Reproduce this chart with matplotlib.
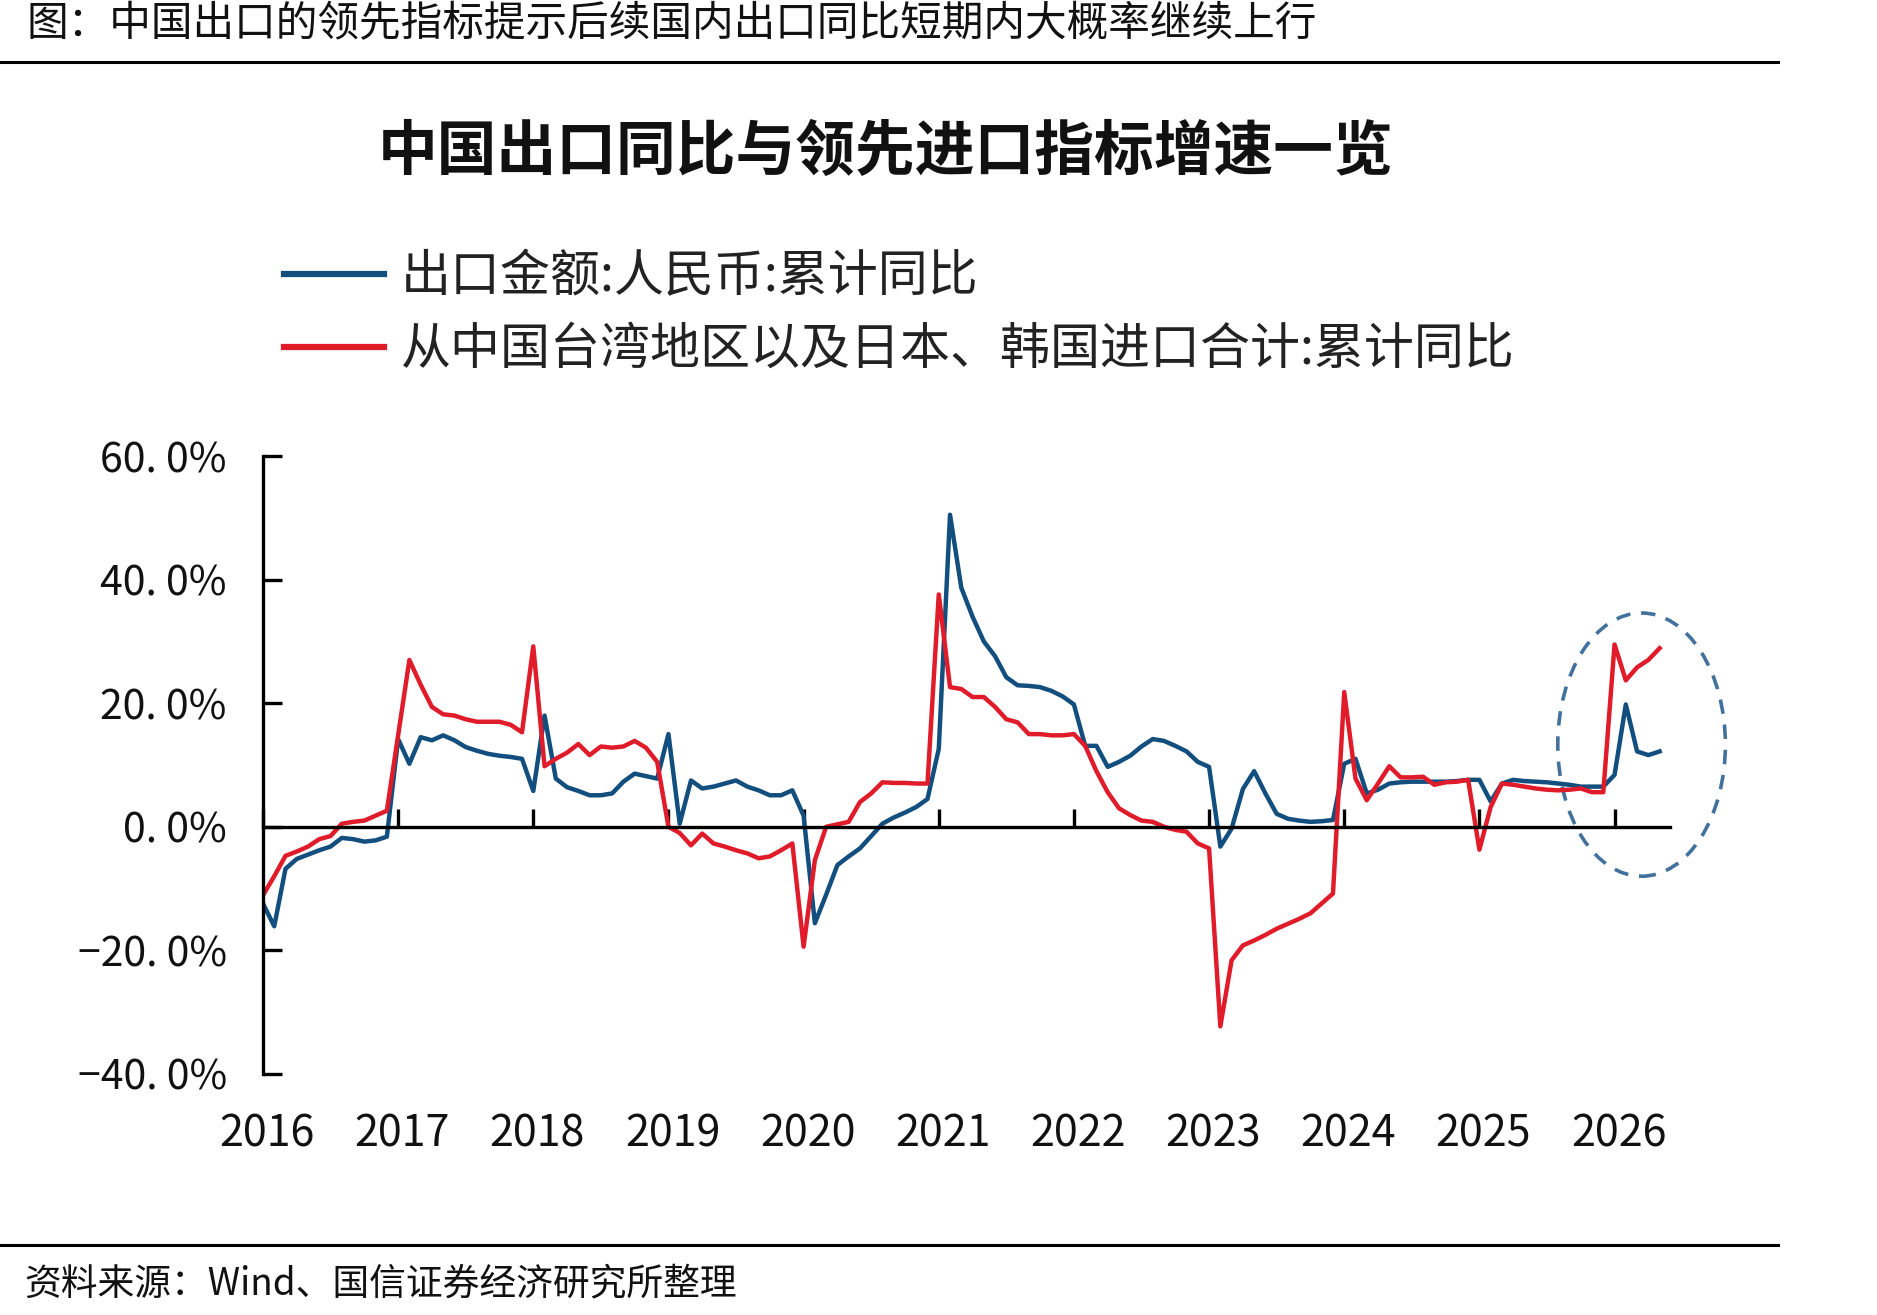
import numpy as np
import matplotlib.pyplot as plt
import matplotlib.transforms as mtransforms
from matplotlib.lines import Line2D
from matplotlib.patches import Ellipse

plt.rcParams['font.family'] = ['Noto Sans CJK SC', 'DejaVu Sans']

# 月度数据：2016-01 至 2026-05
years = list(range(2016, 2027))
year_labels = [str(y) for y in years]

export_yoy = [
    # 2016
    -12.4, -16.1, -6.8, -5.2, -4.5, -3.8, -3.2, -1.8, -2.0, -2.4, -2.2, -1.6,
    # 2017
    14.2, 10.2, 14.5, 14.0, 14.8, 14.0, 12.9, 12.3, 11.8, 11.5, 11.3, 11.0,
    # 2018
    5.8, 18.0, 7.8, 6.4, 5.8, 5.1, 5.1, 5.4, 7.3, 8.6, 8.2, 7.8,
    # 2019
    15.0, 0.5, 7.5, 6.2, 6.5, 7.0, 7.5, 6.5, 5.9, 5.1, 5.1, 5.9,
    # 2020
    1.8, -15.6, -11.0, -6.2, -4.8, -3.5, -1.5, 0.5, 1.5, 2.3, 3.2, 4.5,
    # 2021
    12.6, 50.5, 38.7, 34.0, 30.0, 27.6, 24.2, 22.9, 22.8, 22.6, 22.0, 21.1,
    # 2022
    19.8, 13.1, 13.1, 9.7, 10.5, 11.5, 13.0, 14.2, 13.9, 13.1, 12.2, 10.5,
    # 2023
    9.7, -3.2, -0.3, 6.1, 9.0, 5.4, 2.1, 1.3, 1.0, 0.8, 0.9, 1.1,
    # 2024
    10.2, 11.0, 5.4, 6.0, 7.0, 7.2, 7.3, 7.3, 7.3, 7.3, 7.4, 7.6,
    # 2025
    7.6, 4.1, 7.0, 7.6, 7.4, 7.3, 7.2, 7.0, 6.8, 6.5, 6.5, 6.5,
    # 2026
    8.4, 19.8, 12.2, 11.6, 12.2,
]

import_yoy = [
    # 2016
    -11.1, -8.0, -4.7, -4.0, -3.2, -2.0, -1.5, 0.5, 0.8, 1.0, 1.8, 2.6,
    # 2017
    14.8, 27.0, 23.0, 19.4, 18.2, 18.0, 17.4, 17.0, 17.0, 17.0, 16.5, 15.3,
    # 2018
    29.2, 9.8, 11.0, 12.0, 13.4, 11.6, 13.0, 12.8, 13.0, 13.9, 12.8, 10.5,
    # 2019
    0.0, -1.0, -3.0, -1.1, -2.7, -3.2, -3.8, -4.3, -5.1, -4.8, -3.8, -2.7,
    # 2020
    -19.4, -5.4, 0.0, 0.4, 0.8, 4.0, 5.4, 7.2, 7.1, 7.1, 7.0, 7.0,
    # 2021
    37.6, 22.6, 22.3, 21.0, 21.0, 19.4, 17.4, 16.9, 15.0, 15.0, 14.8, 14.8,
    # 2022
    15.0, 13.1, 9.0, 5.6, 3.0, 1.9, 1.0, 0.8, 0.0, -0.5, -0.8, -2.7,
    # 2023
    -3.5, -32.3, -21.6, -19.2, -18.4, -17.5, -16.5, -15.7, -14.9, -14.0, -12.4, -10.8,
    # 2024
    21.8, 7.8, 4.3, 7.0, 9.8, 8.0, 8.0, 8.1, 6.8, 7.2, 7.3, 7.6,
    # 2025
    -3.7, 3.2, 7.0, 6.8, 6.5, 6.2, 6.0, 5.9, 6.0, 6.2, 5.6, 5.6,
    # 2026
    29.5, 23.7, 25.8, 27.0, 28.9,
]

y_ticks = [-40, -20, 0, 20, 40, 60]
y_labels = ['−40. 0%', '−20. 0%', '0. 0%', '20. 0%', '40. 0%', '60. 0%']

n = len(export_yoy)
t = 2016 + np.arange(n) / 12.0

blue = '#124E7E'
red = '#E01B2A'

fig = plt.figure(figsize=(18.77, 13.15), dpi=100)
ax = fig.add_axes([0.1401, 0.1833, 0.7496, 0.4699])

ax.plot(t, export_yoy, color=blue, lw=3.2, solid_joinstyle='round')
ax.plot(t, import_yoy, color=red, lw=3.2, solid_joinstyle='round')

ax.set_xlim(2016, 2026.41)
ax.set_ylim(-40, 60)

ax.spines['top'].set_visible(False)
ax.spines['right'].set_visible(False)
ax.spines['bottom'].set_position(('data', 0))
ax.spines['left'].set_linewidth(2.4)
ax.spines['bottom'].set_linewidth(2.4)

ax.set_yticks(y_ticks)
ax.set_yticklabels(y_labels)
ax.tick_params(axis='y', direction='in', length=14, width=2.4, pad=26,
               labelsize=29.5, labelcolor='#111111')

ax.set_xticks(years)
ax.set_xticklabels([])
ax.tick_params(axis='x', direction='in', length=13, width=2.4)

trans = mtransforms.blended_transform_factory(ax.transData, fig.transFigure)
for y, lab in zip(years, year_labels):
    ax.text(y + 0.03, 0.1376, lab, transform=trans, ha='center', va='center',
            fontsize=31, color='#111111')

# 虚线圈标注
ell = Ellipse((2026.2, 13.3), 1.24, 42.6, fill=False, edgecolor='#41719C',
              lw=2.6, ls=(0, (4, 3)), clip_on=False)
ax.add_patch(ell)

handles = [Line2D([], [], color=blue, lw=4.5), Line2D([], [], color=red, lw=4.5)]
labels = ['出口金额:人民币:累计同比', '从中国台湾地区以及日本、韩国进口合计:累计同比']
fig.legend(handles, labels, loc='center left', bbox_to_anchor=(0.1513, 0.7615),
           frameon=False, fontsize=36, borderpad=0, borderaxespad=0,
           handlelength=2.0, handletextpad=0.33, labelspacing=0.42,
           labelcolor='#222222')

fig.text(0.472, 0.8836, '中国出口同比与领先进口指标增速一览', ha='center', va='center',
         fontsize=43, fontweight='bold', color='#111111')

fig.text(0.014, 0.981, '图：中国出口的领先指标提示后续国内出口同比短期内大概率继续上行',
         ha='left', va='center', fontsize=30, color='#111111')
fig.add_artist(Line2D([0, 0.947], [0.953, 0.953], color='black', lw=2.2))

fig.add_artist(Line2D([0, 0.947], [0.053, 0.053], color='black', lw=2.2))
fig.text(0.013, 0.024, '资料来源：Wind、国信证券经济研究所整理',
         ha='left', va='center', fontsize=26.5, color='#111111')

fig.savefig('out.png', dpi=100)
